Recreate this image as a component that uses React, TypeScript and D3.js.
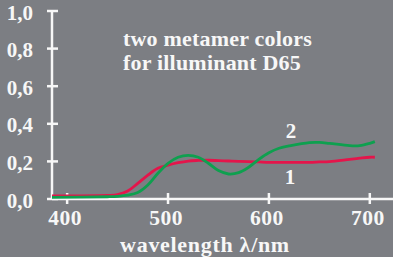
import React from "react";
import * as d3 from "d3";

// wavelengths in nm, reflectance factor
const wavelengths = [385, 440, 450, 460, 470, 480, 490, 500, 510, 520, 530, 540, 550, 560, 570, 580, 590, 600, 610, 620, 640, 650, 660, 680, 690, 700, 705];
const color1 = [0.016, 0.019, 0.023, 0.042, 0.083, 0.127, 0.163, 0.18, 0.193, 0.202, 0.205, 0.206, 0.204, 0.202, 0.2, 0.199, 0.197, 0.195, 0.195, 0.195, 0.195, 0.197, 0.199, 0.211, 0.217, 0.222, 0.222];
const color2 = [0.009, 0.012, 0.014, 0.02, 0.034, 0.074, 0.137, 0.19, 0.222, 0.232, 0.222, 0.19, 0.151, 0.133, 0.14, 0.169, 0.211, 0.246, 0.27, 0.282, 0.3, 0.301, 0.296, 0.284, 0.284, 0.296, 0.305];

const yTicks = [0, 0.2, 0.4, 0.6, 0.8, 1.0];
const xTicks = [400, 500, 600, 700];

const titleLines = ["two metamer colors", "for illuminant D65"];
const xTitle = "wavelength \u03bb/nm";

const W = 393;
const H = 257;
const BG = "#7c7e83";
const FG = "#f7f7f7";
const RED = "#e4154b";
const GREEN = "#0ea04f";
const FONT = "'Liberation Serif', 'Times New Roman', Times, serif";

export default function App() {
  const x = d3.scaleLinear().domain([385, 723]).range([52, 393]);
  const y = d3.scaleLinear().domain([0, 1]).range([199, 11]);

  const line = d3
    .line<number>()
    .x((_, i) => x(wavelengths[i]))
    .y((d) => y(d))
    .curve(d3.curveCatmullRom);

  const txt = (size: number, spacing = 0): React.CSSProperties => ({
    fontFamily: FONT,
    fontWeight: "bold",
    fontSize: size + "px",
    letterSpacing: spacing + "px",
  });

  return (
    <svg
      width={W}
      height={H}
      style={{ position: "absolute", left: 0, top: 0, background: BG }}
    >
      <rect x={0} y={0} width={W} height={H} fill={BG} />

      {/* axes */}
      <line x1={x(385)} x2={x(385)} y1={y(1)} y2={y(0)} stroke={FG} strokeWidth={2.5} />
      <line x1={x(385)} x2={W} y1={y(0)} y2={y(0)} stroke={FG} strokeWidth={2.5} />

      {yTicks.map((t) => (
        <g key={"y" + t}>
          <line x1={x(385) - 5} x2={x(385) + 6} y1={y(t)} y2={y(t)} stroke={FG} strokeWidth={2.5} />
          <text x={33} y={y(t) + 8.5} textAnchor="end" fill={FG} style={txt(21)}>
            {t.toFixed(1).replace(".", ",")}
          </text>
        </g>
      ))}

      {xTicks.map((t) => (
        <g key={"x" + t}>
          <line x1={x(t)} x2={x(t)} y1={y(0) - 6} y2={y(0) + 5} stroke={FG} strokeWidth={2.5} />
          <text x={x(t) - 2} y={225} textAnchor="middle" fill={FG} style={txt(21.5, 0.5)}>
            {t}
          </text>
        </g>
      ))}

      <text x={205} y={252} textAnchor="middle" fill={FG} style={txt(22, 0.7)}>
        {xTitle}
      </text>

      {titleLines.map((s, i) => (
        <text key={s} x={123} y={46 + i * 24} fill={FG} style={txt(22, 0.2)}>
          {s}
        </text>
      ))}

      <path d={line(color1) || ""} fill="none" stroke={RED} strokeWidth={2.8} />
      <path d={line(color2) || ""} fill="none" stroke={GREEN} strokeWidth={2.8} />

      <text x={291} y={138} textAnchor="middle" fill={FG} style={txt(21)}>2</text>
      <text x={290} y={184} textAnchor="middle" fill={FG} style={txt(21)}>1</text>
    </svg>
  );
}
